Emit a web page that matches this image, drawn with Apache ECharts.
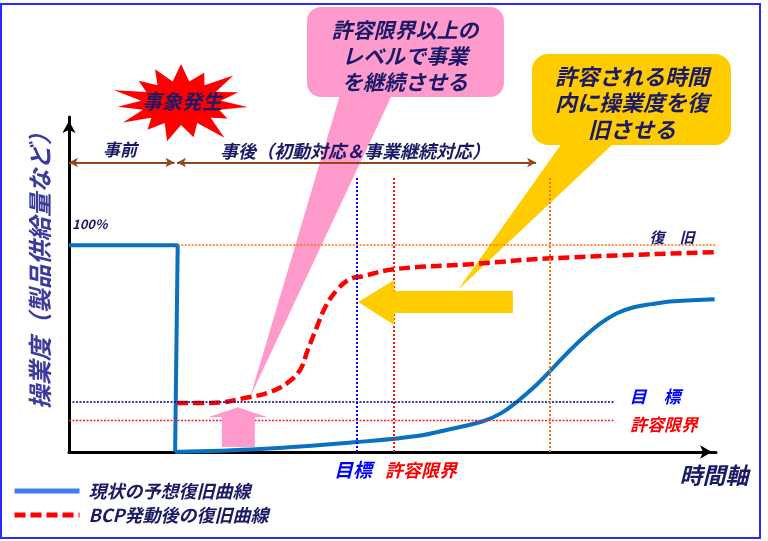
<!DOCTYPE html>
<html><head><meta charset="utf-8">
<script src="https://cdn.jsdelivr.net/npm/echarts@6/dist/echarts.min.js"></script>
<style>html,body{margin:0;padding:0;background:#fff}#c{width:768px;height:541px}</style>
</head><body><div id="c"></div>
<script>
// ---- data (time units 0-100, operation level in %) ----
const currentStep = [[0,100],[16.8,100],[16.4,0]];
const currentRecovery = [[16.4,0],[29.5,1.4],[44.5,4.8],[53.8,7.7],[59.0,11.1],[64.1,15.0],[66.8,18.8],[69.2,24.2],[71.9,31.4],[74.5,39.6],[77.0,47.8],[79.6,55.6],[82.2,62.3],[84.7,67.1],[87.3,70.0],[90.0,71.5],[93.5,72.9],[99.8,73.9]];
const bcpRecovery = [[16.7,23.7],[21.8,23.7],[28.0,26.6],[31.1,29.0],[33.7,33.3],[35.7,39.6],[36.9,49.3],[38.3,60.4],[39.6,70.0],[41.4,78.3],[43.4,83.6],[45.4,85.0],[50.2,88.4],[62.0,90.8],[74.5,93.7],[99.7,96.6]];
const levelTarget = 24.2, levelTolerance = 15.5, levelRecovery = 100;
const timeTarget = 44.4, timeTolerance = 50.2, timeRecovery = 74.3;
const phaseBefore = [0, 16.3], phaseAfter = [16.7, 72.2], phaseLevel = 140;
const vLineTop = 133.3;
const legendNames = ['現状の予想復旧曲線','BCP発動後の復旧曲線'];

const FONT = '"Noto Sans CJK JP","Noto Sans CJK SC",sans-serif';
const NAVY = '#1a1a66';

const chart = echarts.init(document.getElementById('c'), null, {renderer:'canvas'});
const option = {
  animation:false,
  backgroundColor:'#fff',
  grid:{left:69, top:117, right:52, bottom:89},
  xAxis:{type:'value', min:0, max:100, axisLine:{show:true, lineStyle:{color:'#000', width:3}, symbol:['none','arrow'], symbolSize:[10,12], symbolOffset:[0,-4]},
         axisTick:{show:false}, axisLabel:{show:false}, splitLine:{show:false}},
  yAxis:{type:'value', min:0, max:162, axisLine:{show:true, onZero:false, lineStyle:{color:'#000', width:3}, symbol:['none','arrow'], symbolSize:[10,12], symbolOffset:[0,-4]},
         axisTick:{show:false}, axisLabel:{show:false}, splitLine:{show:false}},
  legend:{data:[{name:legendNames[0], lineStyle:{color:'#3d7ef2'}},{name:legendNames[1]}],
          orient:'vertical', left:12, top:481, padding:0, itemWidth:65, itemHeight:8, itemGap:4,
          itemStyle:{opacity:0}, lineStyle:{width:5},
          textStyle:{fontFamily:FONT, fontStyle:'italic', fontWeight:'bold', fontSize:18, color:NAVY, lineHeight:20, padding:[0,0,0,4]}},
  series:[
    {type:'line', name:legendNames[0], data:currentStep, symbol:'none', z:3, lineStyle:{color:'#0a70c0', width:4}, itemStyle:{color:'#3a7af0'}},
    {type:'line', name:legendNames[0], data:currentRecovery, symbol:'none', smooth:0.4, z:3, lineStyle:{color:'#0a70c0', width:4}, itemStyle:{color:'#3a7af0'}},
    {type:'line', name:legendNames[1], data:bcpRecovery, symbol:'none', smooth:0.4, z:4, lineStyle:{color:'#ff0000', width:4.5, type:[11,5]}, itemStyle:{color:'#ff0000'}},
    {type:'line', name:'refs', data:[], z:2,
      markLine:{silent:true, symbol:'none', label:{show:false}, animation:false,
        data:[
          [{coord:[0,levelTarget], lineStyle:{color:'#000080', width:1.6, type:[2,1.5]}},{coord:[84.2,levelTarget]}],
          [{coord:[0,levelTolerance], lineStyle:{color:'#ff2020', width:1.4, type:[2,1.5]}},{coord:[84.2,levelTolerance]}],
          [{coord:[16.8,levelRecovery], lineStyle:{color:'#ff7010', width:1.6, type:[2,1.5]}},{coord:[100,levelRecovery]}],
          [{coord:[timeTarget,0], lineStyle:{color:'#0000ff', width:2, type:[2,2]}},{coord:[timeTarget,vLineTop]}],
          [{coord:[timeTolerance,0], lineStyle:{color:'#ff1010', width:2, type:[2,2]}},{coord:[timeTolerance,vLineTop]}],
          [{coord:[timeRecovery,0], lineStyle:{color:'#ff7010', width:2, type:[2,2]}},{coord:[timeRecovery,vLineTop]}]
        ]}},
    {type:'line', name:'phases', data:[], z:6,
      markLine:{silent:true, symbol:['arrow','arrow'], symbolSize:[7,9], label:{show:false}, animation:false,
        lineStyle:{color:'#9c4418', width:2, type:'solid'},
        data:[
          [{coord:[phaseBefore[0],phaseLevel]},{coord:[phaseBefore[1],phaseLevel]}],
          [{coord:[phaseAfter[0],phaseLevel]},{coord:[phaseAfter[1],phaseLevel]}]
        ]}}
  ]
};
chart.setOption(option);

function P(t,v){ return chart.convertToPixel({gridIndex:0},[t,v]); }
function txt(text, x, y, size, color, align, lineHeight){
  return {type:'text', z:30, style:{text:text, x:x, y:y, fill:color, fontFamily:FONT, fontStyle:'italic', fontWeight:'bold', fontSize:size, lineHeight:lineHeight||size*1.2, textAlign:align||'center', textVerticalAlign:'middle'}};
}
const g = [];
// outer frame
g.push({type:'rect', z:0, shape:{x:1, y:4, width:759, height:534}, style:{fill:'none', stroke:'#2a2aff', lineWidth:2}});
// starburst
(function(){
  const cx=181, cy=103, n=15;
  const f=[1,0.85,1.05,0.9,1,0.8,1.1,0.9,1,0.85,1.0,0.95,1.05,0.85,0.95];
  const pts=[];
  for(let i=0;i<n;i++){
    const a=Math.PI*2*i/n - Math.PI/2, b=a+Math.PI/n;
    pts.push([cx+67*f[i]*Math.cos(a), cy+39*f[i]*Math.sin(a)]);
    pts.push([cx+40*Math.cos(b), cy+22*Math.sin(b)]);
  }
  g.push({type:'polygon', z:5, shape:{points:pts}, style:{fill:'#ff0000'}});
})();
// pink callout
const pinkTip = P(28.0, 26.6);
g.push({type:'polygon', z:1, shape:{points:[[340,95],[392,95],pinkTip]}, style:{fill:'#ff9acd'}});
g.push({type:'rect', z:1, shape:{x:307, y:7, width:197, height:90, r:14}, style:{fill:'#ff9acd'}});
// yellow callout
const yellowTip = P(60.1, 78.3);
g.push({type:'polygon', z:1, shape:{points:[[562,143],[614,143],yellowTip]}, style:{fill:'#ffcc00'}});
g.push({type:'rect', z:1, shape:{x:532, y:54, width:199, height:91, r:16}, style:{fill:'#ffcc00'}});
// pink up arrow
(function(){
  const tip=P(26.1,21.7), bot=P(26.1,2.4);
  const x=tip[0], y=tip[1];
  g.push({type:'polygon', z:10, shape:{points:[[x,y],[x+30,y+10],[x+17,y+10],[x+17,bot[1]],[x-16,bot[1]],[x-16,y+10],[x-30,y+10]]}, style:{fill:'#ff9acd'}});
})();
// yellow left arrow
(function(){
  const tip=P(44.7,72.5), end=P(68.6,72.5);
  const x=tip[0], y=tip[1];
  g.push({type:'polygon', z:10, shape:{points:[[x,y],[x+36,y-22],[x+36,y-11],[end[0],y-11],[end[0],y+11],[x+36,y+11],[x+36,y+23]]}, style:{fill:'#ffcc00'}});
})();
// texts
g.push(txt('事象発生', 182, 101, 20, NAVY));
g.push(txt('許容限界以上の\nレベルで事業\nを継続させる', 405, 56, 21, NAVY, 'center', 26));
g.push(txt('許容される時間\n内に操業度を復\n旧させる', 632, 103, 22, NAVY, 'center', 26.5));
g.push(txt('事前', 120, 150, 17, NAVY));
g.push(txt('事後（初動対応＆事業継続対応）', 355, 151, 18, NAVY));
g.push(txt('100%', 72, 224, 13, NAVY, 'left'));
g.push(txt('復　旧', 672, 237, 15, NAVY));
g.push(txt('目　標', 655, 397, 17, '#0000ff'));
g.push(txt('許容限界', 664, 425, 17, '#ff0000'));
g.push(txt('目標', 353, 470, 19, '#0000ff'));
g.push(txt('許容限界', 421, 470, 18, '#ff0000'));
g.push(txt('時間軸', 714, 475, 23, NAVY));
const yl = txt('操業度（製品供給量など）', 0, 0, 24, '#3b3b9e');
yl.x = 40; yl.y = 265; yl.rotation = Math.PI/2;
g.push(yl);
chart.setOption({graphic:{elements:g}});
</script></body></html>
